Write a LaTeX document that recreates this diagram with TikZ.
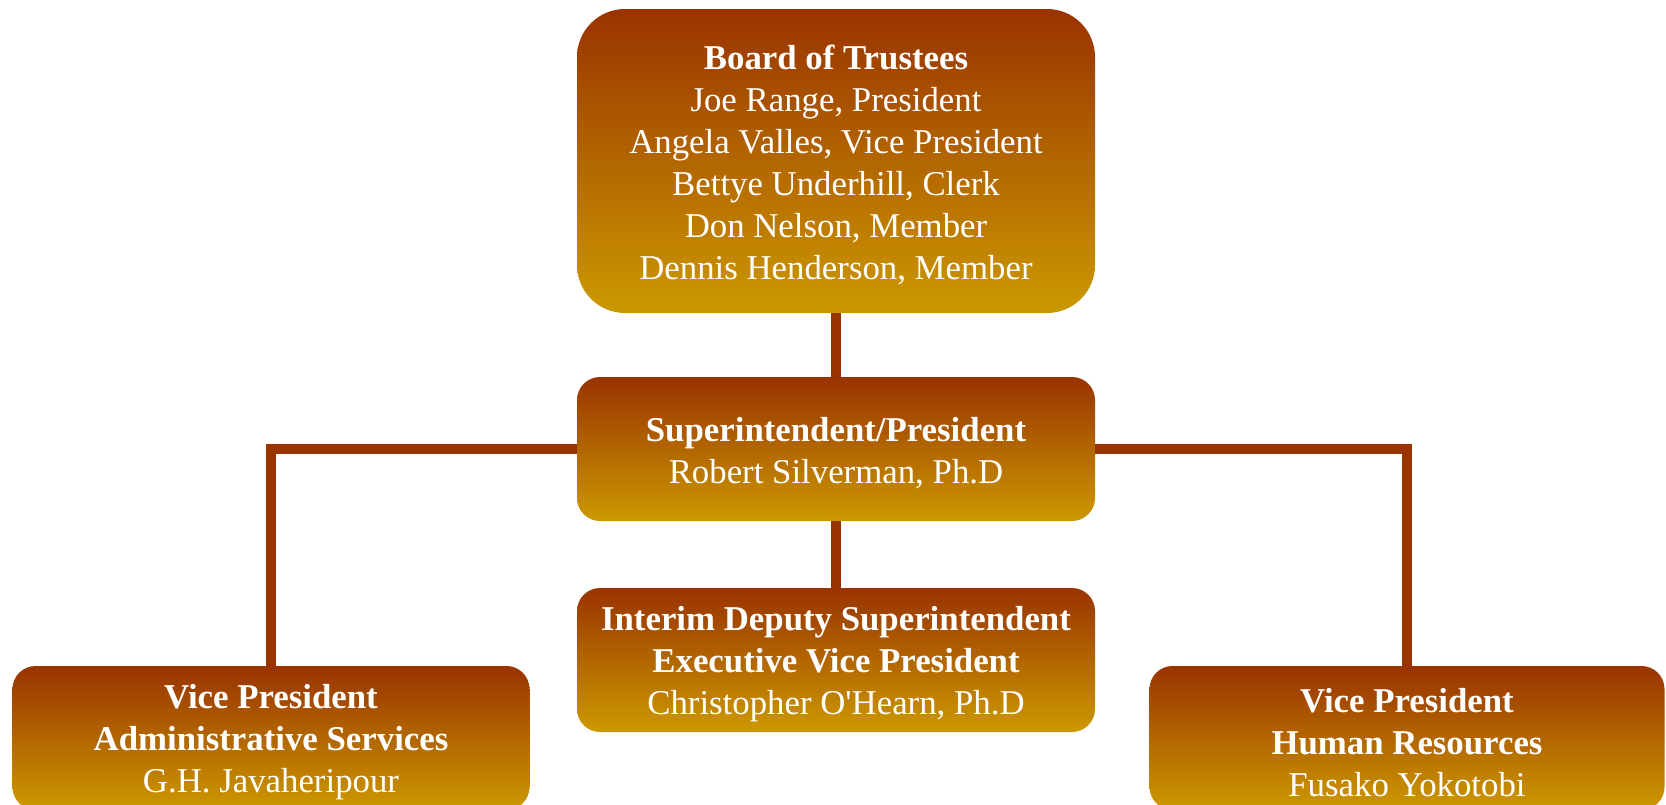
\documentclass[tikz,border=0pt]{standalone}
\usepackage{fontspec}
\setmainfont{Liberation Serif}
\definecolor{rust}{RGB}{153,51,0}
\definecolor{ochre}{RGB}{204,153,0}
\newcommand{\headgap}{\rule{0pt}{16.2pt}}

\begin{document}
\begin{tikzpicture}[x=0.5pt,y=-0.5pt]
    \tikzstyle{post}=[rounded corners=11.5pt, top color=rust, bottom color=ochre, text=white, align=center, inner sep=0pt, minimum width=259pt, minimum height=72pt, font=\fontsize{17.4}{21}\selectfont]
    \tikzstyle{link}=[line width=5pt, draw=rust]

    \useasboundingbox (0,0) rectangle (1666,804);
    \clip (0,0) rectangle (1666,804);

    \node[post, minimum height=152pt, rounded corners=24pt] (board) at (836,161) {\headgap\textbf{Board of Trustees}\\ Joe Range, President\\ Angela Valles, Vice President\\ Bettye Underhill, Clerk\\ Don Nelson, Member\\ Dennis Henderson, Member};
    \node[post] (super) at (836,449) {\headgap\textbf{Superintendent/President}\\ Robert Silverman, Ph.D};
    \node[post] (deputy) at (836,660) {\headgap\textbf{Interim Deputy Superintendent}\\ \textbf{Executive Vice President}\\ Christopher O\textquotesingle Hearn, Ph.D};
    \node[post, minimum width=258.5pt] (vpadmin) at (271,738) {\headgap\textbf{Vice President}\\ \textbf{Administrative Services}\\ G.H. Javaheripour};
    \node[post, minimum width=257.5pt] (vphr) at (1407,738) {\headgap\textbf{Vice President}\\ \textbf{Human Resources}\\ Fusako Yokotobi};

    \foreach \a/\b in {board/super, super/deputy} {
        \draw[link] (\a) -- (\b);
    }
    \foreach \s/\t in {west/vpadmin, east/vphr} {
        \draw[link] (super.\s) -| (\t.north);
    }

\end{tikzpicture}
\end{document}
